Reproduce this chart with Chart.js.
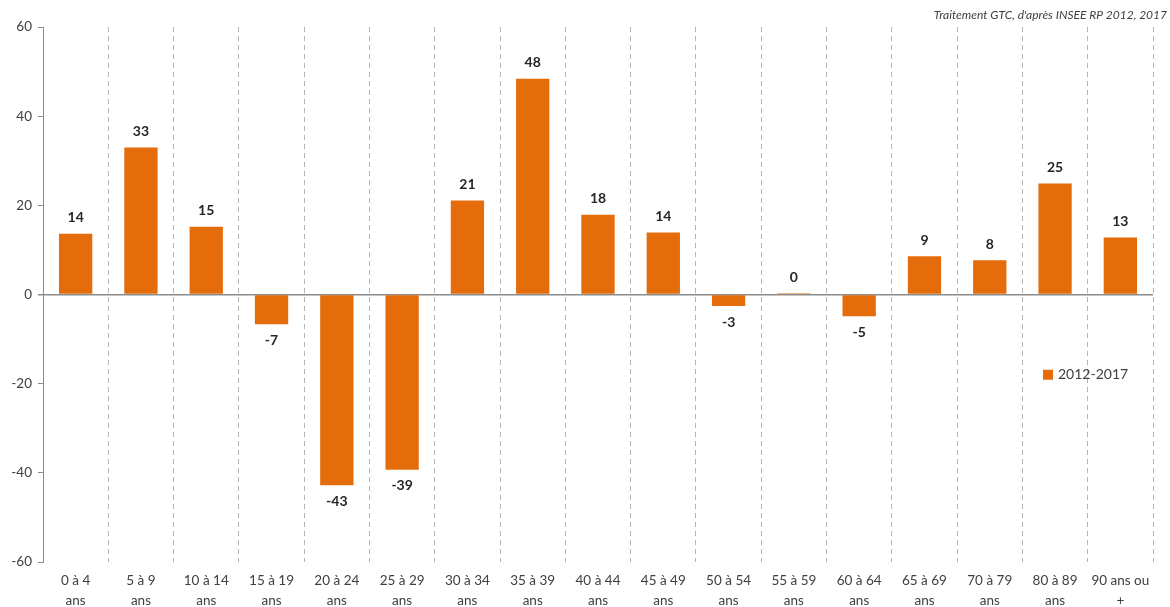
<!DOCTYPE html>
<html lang="fr">
<head>
<meta charset="utf-8">
<title>Évolution de la population par tranche d'âge, 2012-2017</title>
<script src="https://cdn.jsdelivr.net/npm/chart.js@4.4.1/dist/chart.umd.min.js"></script>
<style>
  html, body { margin: 0; padding: 0; background: #ffffff; }
  #wrap { width: 1170px; height: 607px; position: relative; }
</style>
</head>
<body>
<div id="wrap"><canvas id="chart" width="1170" height="607"></canvas></div>
<script>
// Tranches d'âge (deux lignes par étiquette)
const categories = [
  ['0 à 4', 'ans'], ['5 à 9', 'ans'], ['10 à 14', 'ans'], ['15 à 19', 'ans'],
  ['20 à 24', 'ans'], ['25 à 29', 'ans'], ['30 à 34', 'ans'], ['35 à 39', 'ans'],
  ['40 à 44', 'ans'], ['45 à 49', 'ans'], ['50 à 54', 'ans'], ['55 à 59', 'ans'],
  ['60 à 64', 'ans'], ['65 à 69', 'ans'], ['70 à 79', 'ans'], ['80 à 89', 'ans'],
  ['90 ans ou', '+']
];

// Variation de population 2012-2017
const seriesName = '2012-2017';
const values = [13.6, 33.0, 15.2, -6.7, -42.8, -39.3, 21.1, 48.4, 17.9, 13.9, -2.6, 0.3, -4.9, 8.6, 7.7, 24.9, 12.8];

// Graduations de l'axe vertical
const yMin = -60;
const yMax = 60;
const yStep = 20;

const sourceText = "Traitement GTC, d'après INSEE RP 2012, 2017";

const BAR_COLOR = '#E46C0A';
const TEXT_COLOR = '#404040';
const FONT = 'Lato, "Open Sans", "Liberation Sans", sans-serif';

// Étiquettes de valeur au-dessus / au-dessous des barres
const valueLabels = {
  id: 'valueLabels',
  afterDatasetsDraw(chart) {
    const ctx = chart.ctx;
    const meta = chart.getDatasetMeta(0);
    const data = chart.data.datasets[0].data;
    ctx.save();
    ctx.font = 'bold 14px ' + FONT;
    ctx.fillStyle = '#262626';
    ctx.textAlign = 'center';
    ctx.textBaseline = 'middle';
    meta.data.forEach((bar, i) => {
      const v = data[i];
      const top = Math.min(bar.y, bar.base);
      const bottom = Math.max(bar.y, bar.base);
      const y = v >= 0 ? top - 16 : bottom + 16;
      ctx.fillText(String(Math.round(v)), bar.x, y);
    });
    ctx.restore();
  }
};

// Légende et mention de source dessinées dans le graphique
const decorations = {
  id: 'decorations',
  afterDraw(chart) {
    const ctx = chart.ctx;
    const area = chart.chartArea;
    const ds = chart.data.datasets[0];
    ctx.save();
    // légende
    const lx = area.right - 110;
    const ly = chart.scales.y.getPixelForValue(-18);
    ctx.fillStyle = ds.backgroundColor;
    ctx.fillRect(lx, ly - 5, 10, 10);
    ctx.fillStyle = TEXT_COLOR;
    ctx.font = '14px ' + FONT;
    ctx.textAlign = 'left';
    ctx.textBaseline = 'middle';
    ctx.fillText(ds.label, lx + 15, ly);
    // source
    ctx.font = 'italic 12px ' + FONT;
    ctx.fillStyle = TEXT_COLOR;
    ctx.textAlign = 'right';
    ctx.textBaseline = 'alphabetic';
    ctx.fillText(sourceText, chart.width - 3, 19);
    ctx.restore();
  }
};

new Chart(document.getElementById('chart'), {
  type: 'bar',
  data: {
    labels: categories,
    datasets: [{
      label: seriesName,
      data: values,
      backgroundColor: BAR_COLOR,
      borderWidth: 0,
      categoryPercentage: 1.0,
      barPercentage: 0.51
    }]
  },
  options: {
    responsive: false,
    animation: false,
    devicePixelRatio: 1,
    layout: { padding: { top: 27, right: 17, left: 0, bottom: 0 } },
    plugins: {
      legend: { display: false },
      title: { display: false },
      tooltip: { enabled: false }
    },
    scales: {
      x: {
        offset: true,
        grid: {
          offset: true,
          color: '#b4b4b4',
          lineWidth: 1,
          drawTicks: false
        },
        border: { display: false, dash: [5, 4] },
        ticks: {
          color: TEXT_COLOR,
          font: { family: FONT, size: 13.5, lineHeight: 1.45 },
          padding: 9,
          maxRotation: 0,
          autoSkip: false
        },
        afterFit(scale) { scale.height = 45; }
      },
      y: {
        min: yMin,
        max: yMax,
        border: { display: true, color: '#8c8c8c', width: 1 },
        grid: {
          drawOnChartArea: true,
          color: (c) => (c.tick && c.tick.value === 0 ? '#8c8c8c' : 'rgba(0,0,0,0)'),
          lineWidth: (c) => (c.tick && c.tick.value === 0 ? 1.5 : 1),
          tickColor: '#8c8c8c',
          tickLength: 5
        },
        ticks: {
          stepSize: yStep,
          color: TEXT_COLOR,
          font: { family: FONT, size: 13.5 },
          padding: 6
        },
        afterFit(scale) { scale.width = 43; }
      }
    }
  },
  plugins: [valueLabels, decorations]
});
</script>
</body>
</html>
